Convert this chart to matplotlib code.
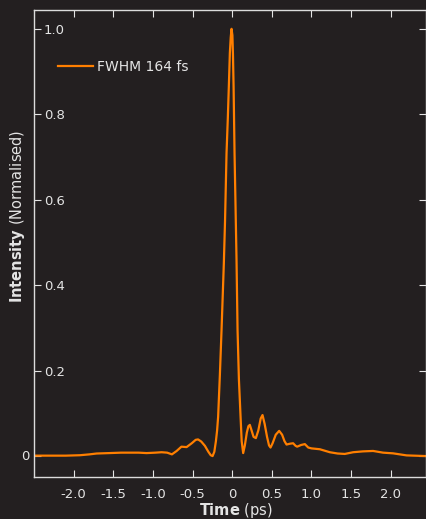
import matplotlib
matplotlib.use('Agg')
import matplotlib.pyplot as plt
from matplotlib import transforms

# pulse intensity profile
time_ps = [-2.50, -2.30, -2.10, -1.92, -1.80, -1.71, -1.55, -1.40, -1.29, -1.18,
           -1.08, -0.97, -0.89, -0.82, -0.76, -0.70, -0.64, -0.575, -0.51, -0.46,
           -0.43, -0.39, -0.344, -0.30, -0.27, -0.247, -0.225, -0.205, -0.19, -0.177,
           -0.155, -0.134, -0.105, -0.090, -0.071, -0.055, -0.042, -0.029, -0.018, -0.008,
           0.003, 0.010, 0.018, 0.030, 0.045, 0.055, 0.068, 0.085, 0.106, 0.120,
           0.139, 0.160, 0.185, 0.205, 0.223, 0.245, 0.270, 0.299, 0.330, 0.360,
           0.383, 0.410, 0.440, 0.465, 0.484, 0.510, 0.550, 0.593, 0.630, 0.660,
           0.686, 0.730, 0.769, 0.800, 0.820, 0.870, 0.917, 0.960, 1.001, 1.106,
           1.232, 1.330, 1.421, 1.526, 1.650, 1.778, 1.904, 2.030, 2.200, 2.450]
intensity = [0.001, 0.001, 0.001, 0.002, 0.004, 0.006, 0.007, 0.008, 0.008, 0.008,
             0.007, 0.008, 0.009, 0.008, 0.004, 0.012, 0.022, 0.021, 0.030, 0.038,
             0.039, 0.034, 0.024, 0.010, 0.002, 0.000, 0.010, 0.035, 0.060, 0.092,
             0.190, 0.295, 0.451, 0.550, 0.709, 0.790, 0.865, 0.944, 0.980, 1.000,
             0.985, 0.940, 0.865, 0.709, 0.560, 0.460, 0.295, 0.180, 0.092, 0.035,
             0.007, 0.025, 0.055, 0.070, 0.073, 0.060, 0.045, 0.042, 0.060, 0.088,
             0.096, 0.075, 0.045, 0.025, 0.020, 0.030, 0.050, 0.059, 0.050, 0.035,
             0.027, 0.029, 0.030, 0.024, 0.022, 0.026, 0.028, 0.020, 0.018, 0.016,
             0.009, 0.006, 0.005, 0.009, 0.011, 0.012, 0.008, 0.0064, 0.0016, 0.000]

xticks = [-2.0, -1.5, -1.0, -0.5, 0, 0.5, 1.0, 1.5, 2.0]
xtick_labels = ['-2.0', '-1.5', '-1.0', '-0.5', '0', '0.5', '1.0', '1.5', '2.0']
yticks = [0, 0.2, 0.4, 0.6, 0.8, 1.0]
ytick_labels = ['', '0.2', '0.4', '0.6', '0.8', '1.0']

bg = '#231f20'
fg = '#e4e4e4'
orange = '#ff7f00'

plt.rcParams['font.family'] = ['DejaVu Sans']
plt.rcParams['mathtext.fontset'] = 'custom'
plt.rcParams['mathtext.rm'] = 'DejaVu Sans'
plt.rcParams['mathtext.bf'] = 'DejaVu Sans:bold'

fig = plt.figure(figsize=(4.27, 5.19), dpi=100, facecolor=bg)
ax = fig.add_axes([0.0796, 0.0809, 0.918, 0.8998])
ax.set_facecolor(bg)

ax.plot(time_ps, intensity, color=orange, lw=1.6, label='FWHM 164 fs')

ax.set_xlim(-2.5, 2.445)
ax.set_ylim(-0.049, 1.044)

ax.set_xticks(xticks, xtick_labels)
ax.set_yticks(yticks, ytick_labels)
ax.tick_params(axis='both', direction='in', colors=fg, labelsize=9.5,
               top=True, right=True, length=5, width=0.8)
ax.tick_params(axis='x', pad=8)
ax.tick_params(axis='y', pad=-7)
for lab in ax.get_yticklabels():
    lab.set_horizontalalignment('left')

trans = transforms.blended_transform_factory(ax.transAxes, ax.transData)
ax.text(-0.011, 0, '0', transform=trans, ha='right', va='center', color=fg, fontsize=9.5)

for sp in ax.spines.values():
    sp.set_color('#dcdcdc')
    sp.set_linewidth(1.0)

leg = ax.legend(loc='center left', bbox_to_anchor=(0.061, 0.878), frameon=False,
                fontsize=10, handlelength=2.5, handletextpad=0.35, borderpad=0,
                borderaxespad=0)
for t in leg.get_texts():
    t.set_color(fg)

fig.text(0.042, 0.584, r'$\mathbf{Intensity}$ (Normalised)', rotation=90,
         ha='center', va='center', color=fg, fontsize=10.5)
fig.text(0.553, 0.017, r'$\mathbf{Time}$ (ps)', ha='center', va='center',
         color=fg, fontsize=10.5)

fig.savefig('out.png', dpi=100, facecolor=bg)
